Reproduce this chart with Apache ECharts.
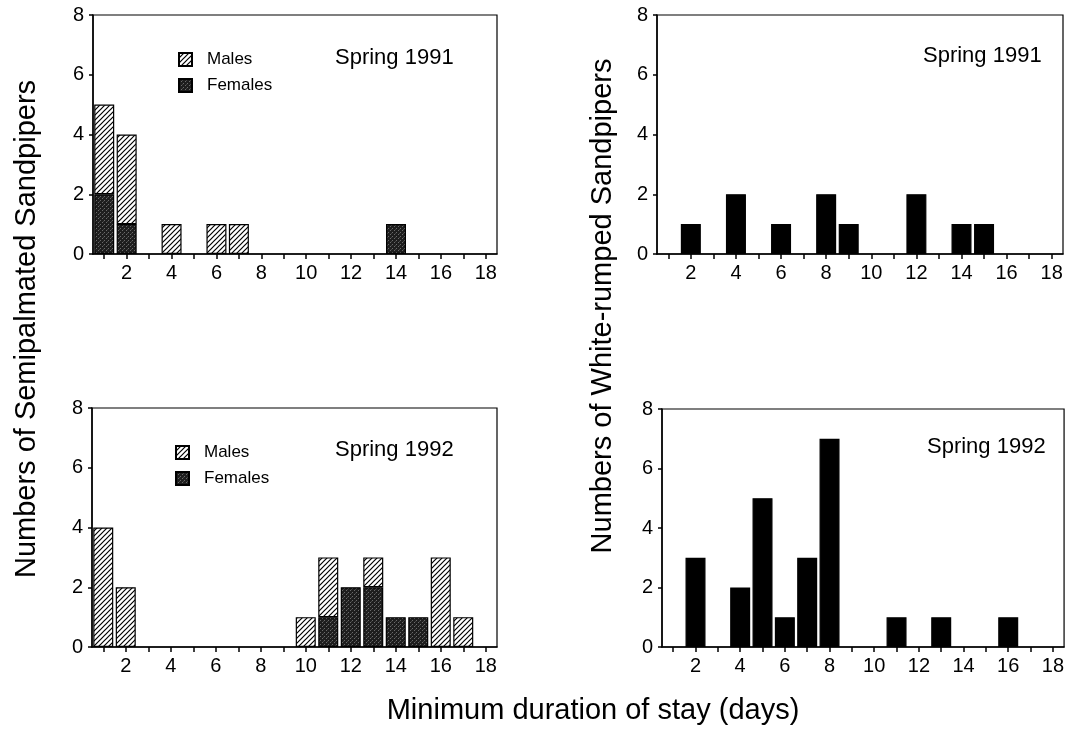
<!DOCTYPE html>
<html><head><meta charset="utf-8">
<script src="https://cdn.jsdelivr.net/npm/echarts@6/dist/echarts.min.js"></script>
<style>html,body{margin:0;padding:0;background:#fff}#c{width:1067px;height:734px}</style>
</head><body><div id="c"></div>
<script>
// ---- data ----
const days = ['1','2','3','4','5','6','7','8','9','10','11','12','13','14','15','16','17','18'];
const semi1991Males   = [3,3,0,1,0,1,1,0,0,0,0,0,0,0,0,0,0,0];
const semi1991Females = [2,1,0,0,0,0,0,0,0,0,0,0,0,1,0,0,0,0];
const semi1992Males   = [4,2,0,0,0,0,0,0,0,1,2,0,1,0,0,3,1,0];
const semi1992Females = [0,0,0,0,0,0,0,0,0,0,1,2,2,1,1,0,0,0];
const white1991 = [0,1,0,2,0,1,0,2,1,0,0,2,0,1,1,0,0,0];
const white1992 = [0,3,0,2,5,1,3,7,0,0,1,0,1,0,0,1,0,0];
const panelTitles = ['Spring 1991','Spring 1991','Spring 1992','Spring 1992'];
const seriesNames = ['Males','Females'];
const xTitle = 'Minimum duration of stay (days)';
const yTitleLeft = 'Numbers of Semipalmated Sandpipers';
const yTitleRight = 'Numbers of White-rumped Sandpipers';

// ---- patterns ----
function hatch(){
  const s = 5, c = document.createElement('canvas'); c.width = s; c.height = s;
  const g = c.getContext('2d'); g.fillStyle = '#fff'; g.fillRect(0,0,s,s);
  g.strokeStyle = '#000'; g.lineWidth = 1.2;
  g.beginPath();
  g.moveTo(-1, s+1); g.lineTo(s+1, -1);
  g.moveTo(-1, 1); g.lineTo(1, -1);
  g.moveTo(s-1, s+1); g.lineTo(s+1, s-1);
  g.stroke();
  return c;
}
function stipple(){
  const s = 4, c = document.createElement('canvas'); c.width = s; c.height = s;
  const g = c.getContext('2d'); g.fillStyle = '#1e1e1e'; g.fillRect(0,0,s,s);
  g.fillStyle = '#6a6a6a'; g.fillRect(0,0,1,1); g.fillRect(2,2,1,1);
  g.fillStyle = '#444'; g.fillRect(3,1,1,1);
  return c;
}
const hatchFill = {image: hatch(), repeat: 'repeat'};
const stippleFill = {image: stipple(), repeat: 'repeat'};

const nz = a => a.map(v => v === 0 ? '-' : v);
const FONT = '"Liberation Sans", Arial, Helvetica, sans-serif';

const grids = [
  {left: 93, top: 15, width: 404, height: 239},
  {left: 657, top: 15, width: 406, height: 239},
  {left: 92, top: 408, width: 405, height: 239},
  {left: 662, top: 409, width: 403, height: 238}
];

const xAxes = grids.map((g, i) => ({
  type: 'category', gridIndex: i, data: days, boundaryGap: true,
  axisLine: {lineStyle: {color: '#000', width: 1.5}},
  axisTick: {show: true, alignWithLabel: true, interval: 0, length: 5, lineStyle: {color: '#000', width: 1.5}},
  axisLabel: {interval: (idx, v) => (+v) % 2 === 0, color: '#000', fontSize: 20, fontFamily: FONT, margin: 9},
  splitLine: {show: false}
}));
const yAxes = grids.map((g, i) => ({
  type: 'value', gridIndex: i, min: 0, max: 8, interval: 2,
  axisLine: {show: true, lineStyle: {color: '#000', width: 1.5}},
  axisTick: {show: true, length: 4, lineStyle: {color: '#000', width: 1.5}},
  axisLabel: {color: '#000', fontSize: 20, fontFamily: FONT, margin: 9},
  splitLine: {show: false}
}));

const border = {borderColor: '#000', borderWidth: 1.2};
function bar(name, data, gi, fill, stack){
  return {
    type: 'bar', name, xAxisIndex: gi, yAxisIndex: gi, data: nz(data), stack,
    barWidth: 20, itemStyle: Object.assign({color: fill}, border),
    emphasis: {disabled: true}, animation: false
  };
}

const series = [
  bar('Females', semi1991Females, 0, stippleFill, 's0'),
  bar('Males', semi1991Males, 0, hatchFill, 's0'),
  bar('Counts', white1991, 1, '#000', 's1'),
  bar('Females', semi1992Females, 2, stippleFill, 's2'),
  bar('Males', semi1992Males, 2, hatchFill, 's2'),
  bar('Counts', white1992, 3, '#000', 's3')
];

const titlePos = [
  {left: 335, top: 47}, {left: 923, top: 45}, {left: 335, top: 439}, {left: 927, top: 436}
];
const titles = panelTitles.map((t, i) => ({
  text: t, left: titlePos[i].left, top: titlePos[i].top,
  textStyle: {fontSize: 22, fontWeight: 'normal', color: '#000', fontFamily: FONT}, padding: 0
}));

const legendPos = [{left: 178, top: 51}, {left: 175, top: 444}];
const legends = legendPos.map(p => ({
  data: seriesNames, orient: 'vertical', left: p.left, top: p.top, padding: 0,
  itemWidth: 13, itemHeight: 13, itemGap: 9, icon: 'rect', selectedMode: false,
  textStyle: {fontSize: 17, color: '#000', fontFamily: FONT, padding: [0,0,0,10]}
}));

const chart = echarts.init(document.getElementById('c'), null, {renderer: 'canvas'});
chart.setOption({
  backgroundColor: '#fff',
  animation: false,
  title: titles,
  legend: legends,
  grid: grids.map(g => Object.assign({show: true, borderColor: '#000', borderWidth: 1.2, backgroundColor: 'transparent'}, g)),
  xAxis: xAxes,
  yAxis: yAxes,
  series,
  graphic: [
    {type: 'text', x: 27, y: 329, rotation: Math.PI/2,
     style: {text: yTitleLeft, fontSize: 29, fontFamily: FONT, fill: '#000', textAlign: 'center', textVerticalAlign: 'middle'}},
    {type: 'text', x: 603, y: 306, rotation: Math.PI/2,
     style: {text: yTitleRight, fontSize: 29, fontFamily: FONT, fill: '#000', textAlign: 'center', textVerticalAlign: 'middle'}},
    {type: 'text', x: 593, y: 711,
     style: {text: xTitle, fontSize: 29, fontFamily: FONT, fill: '#000', textAlign: 'center', textVerticalAlign: 'middle'}}
  ]
});
</script>
</body></html>
